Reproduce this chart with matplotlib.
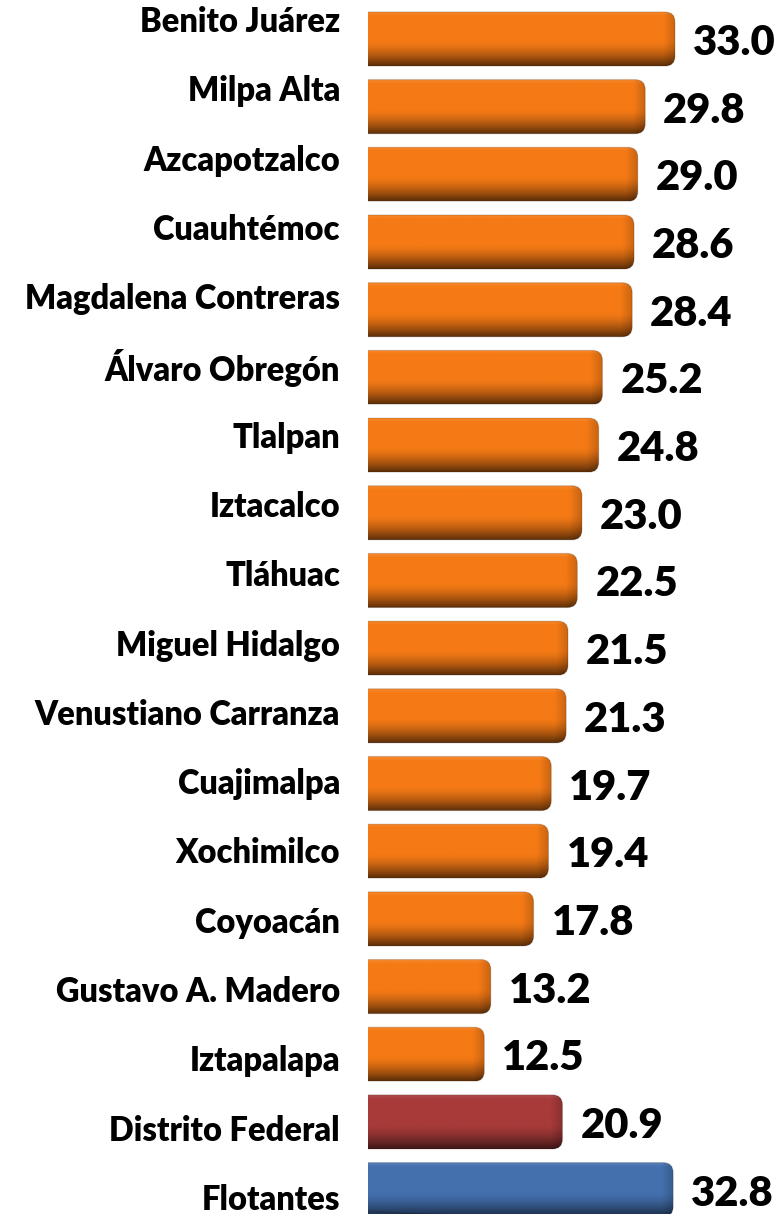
import numpy as np
import matplotlib.pyplot as plt
from matplotlib.patches import FancyBboxPatch
from matplotlib.colors import to_rgb

delegaciones = ["Benito Juárez", "Milpa Alta", "Azcapotzalco", "Cuauhtémoc",
                "Magdalena Contreras", "Álvaro Obregón", "Tlalpan", "Iztacalco",
                "Tláhuac", "Miguel Hidalgo", "Venustiano Carranza", "Cuajimalpa",
                "Xochimilco", "Coyoacán", "Gustavo A. Madero", "Iztapalapa",
                "Distrito Federal", "Flotantes"]
porcentajes = [33.0, 29.8, 29.0, 28.6, 28.4, 25.2, 24.8, 23.0, 22.5, 21.5,
               21.3, 19.7, 19.4, 17.8, 13.2, 12.5, 20.9, 32.8]
colores = ["#F57A15"] * 16 + ["#A83A3A", "#4470AE"]

plt.rcParams['font.family'] = ['Lato', 'DejaVu Sans']

W, H = 782, 1214
fig = plt.figure(figsize=(W / 100, H / 100), dpi=100)
izq = 368
ax = fig.add_axes([izq / W, 0, (W - izq) / W, 1])
xmax = 44.5
ymin, ymax = -0.576, 17.36
px_x = (W - izq) / xmax
px_y = H / (ymax - ymin)


def sombreado(base, alto, ancho):
    # degradado vertical con brillo arriba y sombra abajo, y un poco de sombra en el extremo
    base = np.array(to_rgb(base))
    t = np.linspace(0, 1, alto)[:, None, None]
    img = base + (1 - base) * 0.12 * np.clip(1 - t / 0.08, 0, 1)
    img = img * (1 - 0.62 * np.clip((t - 0.55) / 0.45, 0, 1) ** 1.5)
    u = np.arange(ancho)[::-1][None, :, None]
    img = img * (1 - 0.18 * np.clip(1 - u / 12, 0, 1))
    return np.clip(img, 0, 1)


n = len(porcentajes)
pos = np.arange(n)
barras = ax.barh(pos, porcentajes, height=0.8, color='none')

radio = 10 / px_x
for rect, color in zip(barras, colores):
    y0, h, w = rect.get_y(), rect.get_height(), rect.get_width()
    img = sombreado(color, int(h * px_y), int(w * px_x))
    im = ax.imshow(img, extent=(0, w, y0 + h, y0), aspect='auto',
                   interpolation='bilinear', zorder=2)
    borde = FancyBboxPatch((-2, y0), w + 2, h,
                           boxstyle=f"round,pad=0,rounding_size={radio}",
                           mutation_aspect=px_x / px_y, fill=False,
                           edgecolor=(0, 0, 0, 0.15), linewidth=0.8, zorder=3)
    ax.add_patch(borde)
    im.set_clip_path(borde)

# valores a la derecha de cada barra
for i, v in enumerate(porcentajes):
    ax.text(v + 18 / px_x, i + 4 / px_y, f"{v:.1f}", fontsize=30,
            fontweight='heavy', ha='left', va='center', clip_on=False)

# nombres a la izquierda
lab_y = pos * 1.0236 - 0.25
for y, nombre in zip(lab_y, delegaciones):
    ax.text(-28 / px_x, y, nombre, fontsize=23.5, fontweight='heavy',
            ha='right', va='center', clip_on=False)

ax.set_xlim(0, xmax)
ax.set_ylim(ymax, ymin)
ax.axis('off')

fig.savefig('out.png', dpi=100)
